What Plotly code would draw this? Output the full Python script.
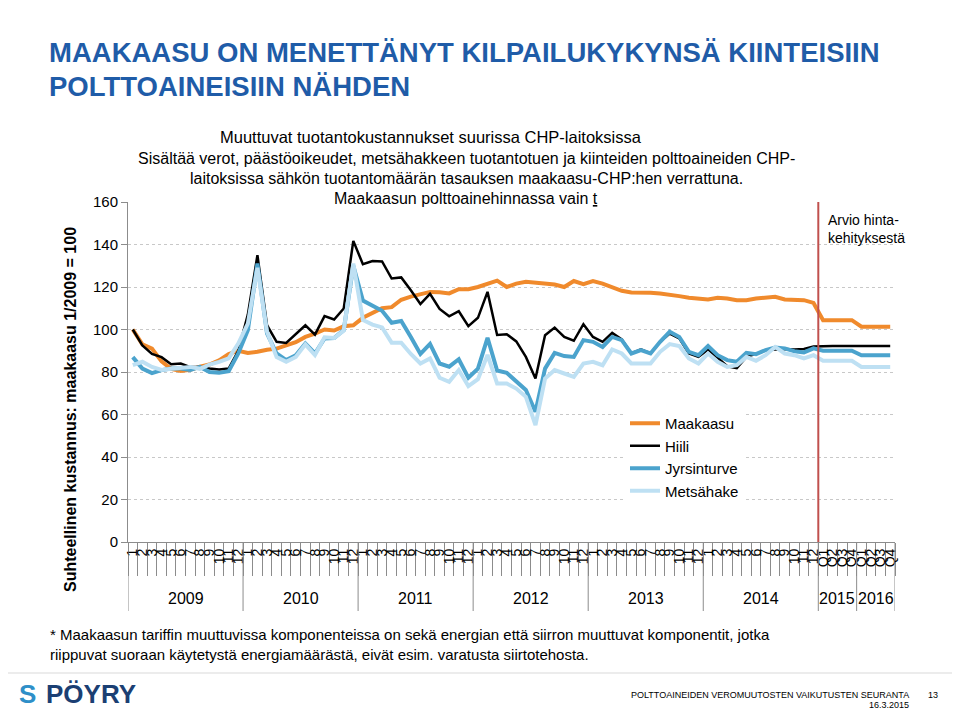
import plotly.graph_objects as go

# ---------------- data ----------------
years = ["2009", "2010", "2011", "2012", "2013", "2014", "2015", "2016"]
months = ["1", "2", "3", "4", "5", "6", "7", "8", "9", "10", "11", "12"]
quarters = ["Q1", "Q2", "Q3", "Q4"]
period_labels = months * 6 + quarters * 2
periods_per_year = [12, 12, 12, 12, 12, 12, 4, 4]

maakaasu = [100, 93, 91, 85, 81.5, 80.5, 81, 82.5, 83.5, 85.5, 88.5, 90,
            89, 89.5, 90.5, 91, 92.5, 94, 96.5, 98, 100, 99.5, 101.5, 102,
            105.5, 108, 110, 110.5, 114, 115.5, 116.5, 117.7, 117.5, 117, 119, 119,
            120, 121.6, 123, 120, 121.6, 122.5, 122, 121.6, 121.2, 120, 122.8, 121.3,
            122.8, 121.6, 120, 118.2, 117.4, 117.4, 117.3, 116.9, 116.5, 115.7, 114.9, 114.6,
            114.1, 114.9, 114.6, 113.8, 113.8, 114.6, 115.1, 115.4, 114.1, 114.1, 113.8, 112.5,
            104.4, 104.4, 104.4, 104.4, 101.3, 101.3, 101.3, 101.3]

hiili = [100, 92.5, 88.5, 87, 83.7, 84, 82.3, 82.4, 81.6, 81.2, 81.6, 90,
         107, 135, 102, 94.2, 93.7, 97.8, 102, 97.6, 106.3, 104.7, 109.9, 141.7,
         130.7, 132.2, 132, 124, 124.5, 118.5, 112, 116.8, 109.7, 106.2, 108.6, 101.6,
         105.5, 117.7, 97.4, 97.8, 94.4, 87.1, 76.9, 97.3, 100.9, 96.5, 94.7, 102.5,
         96.5, 94.2, 98.4, 95.3, 88.7, 90.6, 88.7, 94.2, 98.1, 95.8, 88.7, 87.1,
         90.6, 86.7, 82.7, 81.8, 87.1, 88.5, 90.3, 90.6, 90.8, 90.6, 90.8, 92,
         92.2, 92.2, 92.2, 92.2, 92.2, 92.2, 92.2, 92.2]

jyrsinturve = [87, 81.6, 79.5, 80.9, 81.6, 81.6, 81, 82.4, 80, 79.6, 80.4, 88.7,
               99.7, 131, 98.1, 88.7, 85.6, 87.9, 93.4, 88.7, 95.8, 96, 99.7, 130,
               113.6, 111, 108.8, 103.2, 104, 96.5, 88.5, 93.2, 84, 82.5, 86, 77.3,
               81.6, 96.1, 80.7, 79.6, 75.6, 71.5, 61.3, 81.6, 89, 87.5, 87.1, 95,
               94.2, 91.8, 96.5, 95, 88.7, 90.3, 88.7, 94.2, 98.9, 96.5, 89.5, 87.9,
               92.2, 87.9, 85.6, 84.8, 89, 88.4, 90.3, 91.5, 91.1, 89.8, 89.2, 91.1,
               90, 90, 90, 90, 87.9, 87.9, 87.9, 87.9]

metsahake = [83.2, 84.8, 82.4, 81, 81.5, 82, 82.4, 81.5, 83.5, 84.8, 86.4, 93.4,
             102.8, 129, 99, 87, 84.8, 87.1, 93, 88, 96.3, 96, 99.5, 131,
             104.5, 102.3, 101, 93.8, 93.8, 88.5, 84, 86.4, 77.3, 75.4, 80.9, 73.4,
             76.6, 88, 74.6, 74.6, 72.2, 68.3, 55, 76.9, 80.9, 79.3, 77.7, 84,
             84.8, 83.2, 90.6, 88.7, 84, 84, 84, 89.5, 93.1, 92.2, 86.4, 84,
             88.7, 84.8, 82.4, 83.2, 87.1, 85.3, 87.9, 91.8, 88.7, 87.9, 86.4, 87.9,
             85.3, 85.3, 85.3, 85.3, 82.4, 82.4, 82.4, 82.4]

series_names = ["Maakaasu", "Hiili", "Jyrsinturve", "Metsähake"]
series_values = [maakaasu, hiili, jyrsinturve, metsahake]
series_colors = ["#F08A2C", "#000000", "#4BA3CD", "#BEE0F3"]
series_widths = [4, 2.5, 4, 4]

forecast_start = 72  # first quarterly period (2015 Q1)

# ---------------- figure geometry ----------------
OFF = 8                      # page body margin of the html page
W, H = 960 - OFF, 712 - OFF
L, T = 128 - OFF, 202 - OFF
PW, PH = 767, 340
R, B = W - L - PW, H - T - PH
FONT = "Liberation Sans, Arial, sans-serif"


def px(xp):
    """page pixel x -> paper coordinate"""
    return (xp - OFF - L) / PW


def py(yp):
    """page pixel y -> paper coordinate"""
    return (T + PH - (yp - OFF)) / PH


x_idx = list(range(len(period_labels)))

fig = go.Figure()
for name, vals, col, w in zip(series_names, series_values, series_colors, series_widths):
    fig.add_trace(go.Scatter(x=x_idx, y=vals, mode="lines", name=name,
                             line=dict(color=col, width=w)))

# boundaries between periods and between years
boundaries = [i - 0.5 for i in range(len(period_labels) + 1)]
year_bounds = [-0.5]
for n in periods_per_year:
    year_bounds.append(year_bounds[-1] + n)

shapes = []
for xb in year_bounds:
    shapes.append(dict(type="line", xref="x", yref="paper", x0=xb, x1=xb,
                       y0=0, y1=py(611), line=dict(color="#8C8C8C", width=1)))
# forecast divider
shapes.append(dict(type="line", xref="x", yref="paper", x0=forecast_start - 0.5,
                   x1=forecast_start - 0.5, y0=0, y1=1.0,
                   line=dict(color="#C0504D", width=2)))
# footer rule
shapes.append(dict(type="line", xref="paper", yref="paper", x0=px(8), x1=px(960),
                   y0=py(673), y1=py(673), line=dict(color="#D9D9D9", width=1)))

annotations = []
# year labels
for k, yr in enumerate(years):
    xc = (year_bounds[k] + year_bounds[k + 1]) / 2
    annotations.append(dict(x=xc, y=py(598), xref="x", yref="paper", text=yr,
                            showarrow=False, font=dict(size=16, color="#000"),
                            xanchor="center", yanchor="middle"))

# main title
annotations.append(dict(x=px(47), y=py(52), xref="paper", yref="paper",
                        text="<b>MAAKAASU ON MENETTÄNYT KILPAILUKYKYNSÄ KIINTEISIIN</b>",
                        showarrow=False, xanchor="left", yanchor="middle",
                        font=dict(size=27.5, color="#1F5CA8", family=FONT)))
annotations.append(dict(x=px(47), y=py(86), xref="paper", yref="paper",
                        text="<b>POLTTOAINEISIIN NÄHDEN</b>",
                        showarrow=False, xanchor="left", yanchor="middle",
                        font=dict(size=27.5, color="#1F5CA8", family=FONT)))
# chart title
annotations.append(dict(x=px(431), y=py(137), xref="paper", yref="paper",
                        text="Muuttuvat tuotantokustannukset suurissa CHP-laitoksissa",
                        showarrow=False, xanchor="center", yanchor="middle",
                        font=dict(size=16.5, color="#000")))
sub_lines = ["Sisältää verot, päästöoikeudet, metsähakkeen tuotantotuen ja kiinteiden polttoaineiden CHP-",
             "laitoksissa sähkön tuotantomäärän tasauksen maakaasu-CHP:hen verrattuna.",
             "Maakaasun polttoainehinnassa vain <u>t</u>"]
for j, s in enumerate(sub_lines):
    annotations.append(dict(x=px(466), y=py(158 + 20 * j), xref="paper", yref="paper",
                            text=s, showarrow=False, xanchor="center", yanchor="middle",
                            font=dict(size=16, color="#000")))
# forecast note
annotations.append(dict(x=px(826), y=py(229), xref="paper", yref="paper",
                        text="Arvio hinta-<br>kehityksestä", showarrow=False,
                        xanchor="left", yanchor="middle", align="left",
                        font=dict(size=14, color="#000")))
# y axis title
annotations.append(dict(x=px(70), y=py(410), xref="paper", yref="paper",
                        text="<b>Suhteellinen kustannus: maakaasu 1/2009 = 100</b>",
                        showarrow=False, textangle=-90, xanchor="center", yanchor="middle",
                        font=dict(size=16, color="#000")))
# footnote
annotations.append(dict(x=px(48), y=py(644), xref="paper", yref="paper",
                        text="* Maakaasun tariffin muuttuvissa komponenteissa on sekä energian että siirron muuttuvat komponentit, jotka<br>riippuvat suoraan käytetystä energiamäärästä, eivät esim. varatusta siirtotehosta.",
                        showarrow=False, xanchor="left", yanchor="middle", align="left",
                        font=dict(size=15, color="#000")))
# footer
annotations.append(dict(x=px(44), y=py(694), xref="paper", yref="paper",
                        text="<b>PÖYRY</b>", showarrow=False, xanchor="left", yanchor="middle",
                        font=dict(size=26, color="#1B3F73")))
annotations.append(dict(x=px(17), y=py(694), xref="paper", yref="paper",
                        text="<b>S</b>", showarrow=False, xanchor="left", yanchor="middle",
                        font=dict(size=26, color="#2E8FC8")))
annotations.append(dict(x=px(911), y=py(695), xref="paper", yref="paper",
                        text="POLTTOAINEIDEN VEROMUUTOSTEN VAIKUTUSTEN SEURANTA", showarrow=False,
                        xanchor="right", yanchor="middle", font=dict(size=9, color="#000")))
annotations.append(dict(x=px(926), y=py(695), xref="paper", yref="paper",
                        text="13", showarrow=False,
                        xanchor="left", yanchor="middle", font=dict(size=9, color="#000")))
annotations.append(dict(x=px(911), y=py(705), xref="paper", yref="paper",
                        text="16.3.2015", showarrow=False,
                        xanchor="right", yanchor="middle", font=dict(size=9, color="#000")))

fig.update_layout(
    width=W, height=H,
    margin=dict(l=L, r=R, t=T, b=B, pad=0, autoexpand=False),
    paper_bgcolor="white", plot_bgcolor="white",
    font=dict(family=FONT, color="#000"),
    showlegend=True,
    legend=dict(x=px(625), y=py(407), xanchor="left", yanchor="top",
                bgcolor="white", font=dict(size=15, color="#000"),
                tracegroupgap=0, itemwidth=30),
    shapes=shapes,
    annotations=annotations,
)

fig.update_xaxes(
    range=[-0.5, len(period_labels) - 0.5],
    tickmode="array", tickvals=x_idx, ticktext=period_labels,
    tickangle=-90, ticks="", tickfont=dict(size=14, color="#000"),
    showgrid=False, zeroline=False,
    showline=True, linecolor="#8C8C8C", linewidth=1,
    minor=dict(tickmode="array", tickvals=boundaries, ticks="outside",
               ticklen=33, tickcolor="#8C8C8C", tickwidth=1, showgrid=False),
)
fig.update_yaxes(
    range=[0, 160], dtick=20, tick0=0,
    ticks="outside", ticklen=6, tickcolor="#8C8C8C",
    tickfont=dict(size=15, color="#000"),
    showgrid=True, gridcolor="#C8C8C8", griddash="dot", gridwidth=1,
    zeroline=False, showline=True, linecolor="#8C8C8C", linewidth=1,
)

fig.write_html("out.html")
